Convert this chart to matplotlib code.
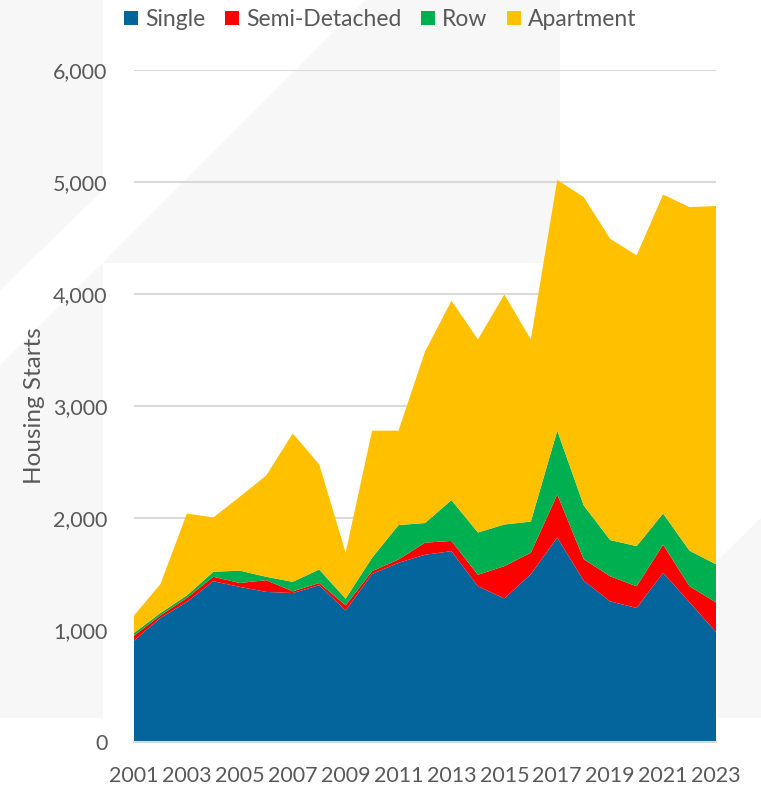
import matplotlib.pyplot as plt
from matplotlib.patches import Patch, Polygon

plt.rcParams['font.family'] = ['Lato', 'DejaVu Sans']

years = list(range(2001, 2024))
single = [905, 1108, 1251, 1435, 1385, 1340, 1330, 1400, 1175, 1500, 1600, 1672,
          1704, 1390, 1282, 1498, 1825, 1440, 1255, 1197, 1511, 1247, 982]
semi = [45, 22, 36, 40, 35, 105, 15, 20, 45, 25, 30, 108,
        91, 103, 288, 192, 385, 192, 225, 193, 251, 143, 265]
row = [23, 22, 22, 45, 110, 30, 85, 120, 60, 120, 307, 175,
       365, 377, 372, 278, 570, 480, 323, 359, 278, 318, 340]
apartment = [157, 258, 731, 485, 660, 905, 1325, 940, 410, 1135, 843, 1530,
             1780, 1725, 2053, 1627, 2240, 2753, 2690, 2596, 2848, 3068, 3198]
labels = ['Single', 'Semi-Detached', 'Row', 'Apartment']
colors = ['#03659C', '#FF0000', '#00B050', '#FFC000']

W, H = 761, 788
fig = plt.figure(figsize=(W / 100, H / 100), dpi=100)


def px(points):
    return [(x / W, 1 - y / H) for x, y in points]


# faint logo shapes in the background
shade = '#F7F7F7'
shapes = [
    [(0, 366), (366, 0), (560, 0), (560, 263), (103, 263), (103, 718), (0, 718)],
    [(0, 0), (103, 0), (103, 190), (0, 290)],
    [(718, 560), (761, 518), (761, 718), (718, 718)],
]
for pts in shapes:
    fig.patches.append(Polygon(px(pts), closed=True, transform=fig.transFigure,
                               facecolor=shade, edgecolor='none', zorder=-5))

ax = fig.add_axes([134 / W, 46 / H, (716 - 134) / W, (742 - 70) / H])
ax.set_zorder(2)
ax.patch.set_alpha(0)

ax.stackplot(years, single, semi, row, apartment, colors=colors,
             linewidth=0, zorder=2)

ax.set_xlim(2001, 2023)
ax.set_ylim(0, 6000)
ax.set_xticks(years[::2])
ax.set_yticks(range(0, 6001, 1000))
ax.yaxis.set_major_formatter(plt.FuncFormatter(lambda v, p: f'{int(v):,}'))
ax.grid(axis='y', color='#D9D9D9', linewidth=1.5, zorder=1)
ax.set_axisbelow(True)
for s in ['top', 'right', 'left']:
    ax.spines[s].set_visible(False)
ax.spines['bottom'].set_color('#D9D9D9')
ax.spines['bottom'].set_linewidth(1.5)
ax.tick_params(length=0, labelsize=15.5, labelcolor='#595959')
ax.tick_params(axis='y', pad=19)
ax.tick_params(axis='x', pad=17)
ax.set_ylabel('Housing Starts', fontsize=17.5, color='#595959', labelpad=6)

handles = [Patch(facecolor=c, edgecolor='none') for c in colors]
fig.legend(handles, labels, loc='upper center', bbox_to_anchor=(0.5, 1.003),
           ncol=4, frameon=False, fontsize=16.5, labelcolor='#595959',
           handlelength=0.6, handleheight=0.6, handletextpad=0.32,
           columnspacing=0.85, borderaxespad=0.1)

fig.savefig('out.png', dpi=100)
